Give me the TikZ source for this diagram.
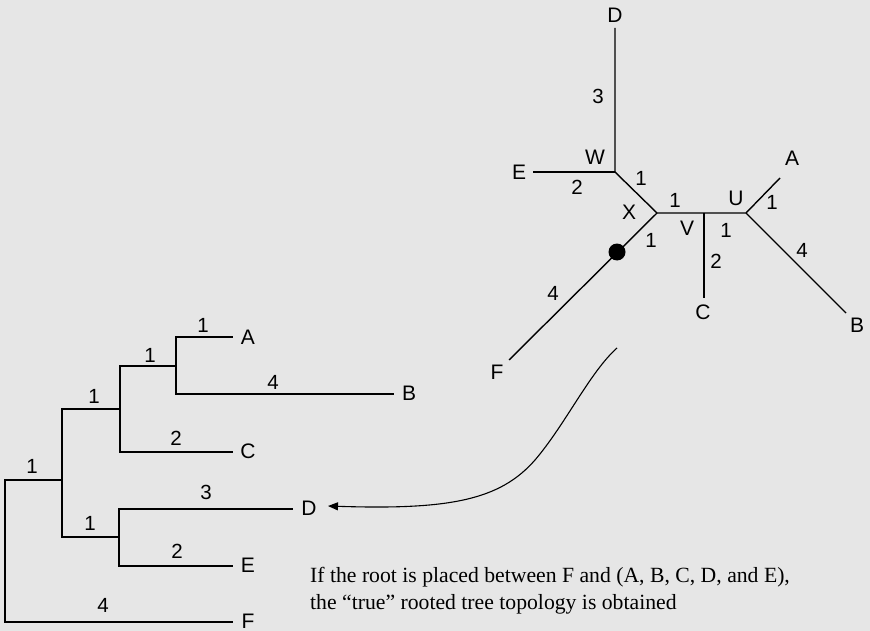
\documentclass[tikz,border=0pt]{standalone}
\usepackage{fontspec}
\setmainfont{Liberation Serif}
\setsansfont{Liberation Sans}
\usetikzlibrary{arrows.meta}
\definecolor{bg}{HTML}{E6E6E6}
\begin{document}
\begin{tikzpicture}[x=1pt,y=-1pt,
  br/.style={line width=1.4pt,line cap=rect},
  lab/.style={font=\sffamily\fontsize{21}{22}\selectfont,inner sep=0pt},
  num/.style={font=\sffamily\fontsize{20.5}{22}\selectfont,inner sep=0pt}]
\fill[bg] (0,0) rectangle (870,631);
\useasboundingbox (0,0) rectangle (870,631);
% ---------- rooted tree ----------
\coordinate (r) at (5,480);
\coordinate (rF) at (5,622);
\coordinate (n1) at (62,480);
\coordinate (n1t) at (62,409);
\coordinate (n1b) at (62,537);
\coordinate (n2) at (120,409);
\coordinate (n2t) at (120,366);
\coordinate (n2b) at (120,452);
\coordinate (n3) at (176,366);
\coordinate (n3t) at (176,337);
\coordinate (n3b) at (176,394);
\coordinate (n4) at (119,537);
\coordinate (n4t) at (119,509);
\coordinate (n4b) at (119,566);
\coordinate (eA) at (232,337);
\coordinate (eB) at (393,394);
\coordinate (eC) at (232,452);
\coordinate (eD) at (292,509);
\coordinate (eE) at (232,566);
\coordinate (eF) at (232,622);
\draw[br] (eF) -- (rF) -- (r) -- (n1);
\draw[br] (n1t) -- (n1b);
\draw[br] (n1t) -- (n2);
\draw[br] (n2t) -- (n2b);
\draw[br] (n2t) -- (n3);
\draw[br] (n3t) -- (n3b);
\draw[br] (n3t) -- (eA);
\draw[br] (n3b) -- (eB);
\draw[br] (n2b) -- (eC);
\draw[br] (n1b) -- (n4);
\draw[br] (n4t) -- (n4b);
\draw[br] (n4t) -- (eD);
\draw[br] (n4b) -- (eE);
\node[lab] (lA) at (248,337) {A};
\node[lab] (lB) at (409,393) {B};
\node[lab] (lC) at (248,451) {C};
\node[lab] (lD) at (309,508) {D};
\node[lab] (lE) at (248,565) {E};
\node[lab] (lF) at (248,621) {F};
\node[num] (w1) at (32,466) {1};
\node[num] (w2) at (94,396) {1};
\node[num] (w3) at (150,355) {1};
\node[num] (w4) at (203,325) {1};
\node[num] (w5) at (273,382) {4};
\node[num] (w6) at (176,438) {2};
\node[num] (w7) at (206,492) {3};
\node[num] (w8) at (90,523) {1};
\node[num] (w9) at (177,551) {2};
\node[num] (w10) at (103,605) {4};
% ---------- unrooted tree ----------
\coordinate (W) at (615,172);
\coordinate (X) at (657,213);
\coordinate (V) at (704,213);
\coordinate (U) at (746,213);
\coordinate (uD) at (615,28);
\coordinate (uE) at (533,172);
\coordinate (uA) at (780,178);
\coordinate (uB) at (846,313);
\coordinate (uC) at (704,298);
\coordinate (uF) at (509,360);
\draw[br,line cap=butt] (uD) -- (W) -- (X) -- (V) -- (U) -- (uA);
\draw[br,line cap=butt] (uE) -- (W);
\draw[br,line cap=butt] (X) -- (uF);
\draw[br,line cap=butt] (V) -- (uC);
\draw[br,line cap=butt] (U) -- (uB);
\fill (617,252) circle (8.5);
\node[lab] (ulD) at (615,15) {D};
\node[lab] (ulE) at (519,172) {E};
\node[lab] (ulA) at (792,158) {A};
\node[lab] (ulB) at (857,325) {B};
\node[lab] (ulC) at (703,312) {C};
\node[lab] (ulF) at (497,372) {F};
\node[lab] (lW) at (595,157) {W};
\node[lab] (lX) at (629,212) {X};
\node[lab] (lV) at (687,228) {V};
\node[lab] (lU) at (736,198) {U};
\node[num] (u1) at (598,96) {3};
\node[num] (u2) at (577,187) {2};
\node[num] (u3) at (641,178) {1};
\node[num] (u4) at (675,200) {1};
\node[num] (u5) at (726,230) {1};
\node[num] (u6) at (651,240) {1};
\node[num] (u7) at (716,261) {2};
\node[num] (u8) at (772,202) {1};
\node[num] (u9) at (802,250) {4};
\node[num] (u10) at (553,293) {4};
% ---------- arrow ----------
\coordinate (cs) at (617,348);
\coordinate (tip) at (328,506);
\draw[line width=1.1pt,-{Triangle[length=10pt,width=8pt]}] (cs) .. controls (590,372) and (565,425) .. (535,460) .. controls (500,500) and (450,510) .. (tip);
% ---------- caption ----------
\node[anchor=north west,align=left,inner sep=0pt,font=\fontsize{21.7}{27.5}\selectfont] (cap) at (310,567)
  {If the root is placed between F and (A, B, C, D, and E),\\the “true” rooted tree topology is obtained};
\end{tikzpicture}
\end{document}
